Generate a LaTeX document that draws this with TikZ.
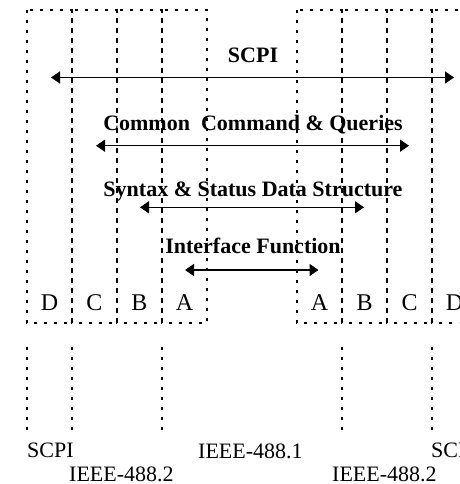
\documentclass[tikz,border=0pt]{standalone}
\usepackage{fontspec}
\setmainfont{Liberation Serif}
\usetikzlibrary{arrows.meta}

\tikzset{
	dotline/.style={line width=1.5pt, dash pattern=on 3pt off 7pt},
	layerarrow/.style={line width=1.5pt, {Triangle[length=9pt,width=12pt]}-{Triangle[length=9pt,width=12pt]}},
	layertext/.style={font=\fontsize{22}{26}\selectfont\bfseries, inner sep=0pt, anchor=base},
	lettertext/.style={font=\fontsize{24}{28}\selectfont, inner sep=0pt, anchor=base},
	stdtext/.style={font=\fontsize{22}{26}\selectfont, inner sep=0pt, anchor=base west}
}

% one column of a stack: left x, letter, node name
\newcommand{\drawcolumn}[3]{
	\draw[dotline] (#1, 10) rectangle (#1+45, 323);
	\node[lettertext] (#3) at (#1+22.5, 310) {#2};
}

% one layer: name, arrow y, left x, right x, label baseline, label
\newcommand{\drawlayer}[6]{
	\node[layertext] (#1) at (253, #5) {#6};
	\coordinate (#1L) at (#3, #2);
	\coordinate (#1R) at (#4, #2);
	\draw[layerarrow] (#1L) -- (#1R);
}

\begin{document}
\begin{tikzpicture}[x=1pt, y=-1pt]
	\useasboundingbox (0, 0) rectangle (459, 484);
	\clip (0, 0) rectangle (459, 484);

	%% left stack
	\drawcolumn{27}{D}{lD}
	\drawcolumn{72}{C}{lC}
	\drawcolumn{117}{B}{lB}
	\drawcolumn{162}{A}{lA}

	%% right stack
	\drawcolumn{297}{A}{rA}
	\drawcolumn{342}{B}{rB}
	\drawcolumn{387}{C}{rC}
	\drawcolumn{432}{D}{rD}

	% layers
	\drawlayer{scpi}{77.5}{51}{454}{63}{SCPI}
	\drawlayer{common}{145.7}{96}{409}{130}{Common\ \ Command \& Queries}
	\drawlayer{syntax}{207.3}{140}{364}{196}{Syntax \& Status Data Structure}
	\drawlayer{iface}{270}{185}{318.5}{253}{Interface Function}

	% stubs below
	\foreach \x in {27, 72, 162, 342, 432, 477}
		\draw[dotline] (\x, 347) -- (\x, 436);

	% standards
	\node[stdtext] (scpiA) at (27, 457) {SCPI};
	\node[stdtext] (ieeeA) at (69, 481.5) {IEEE-488.2};
	\node[stdtext] (ieeeB) at (198, 458) {IEEE-488.1};
	\node[stdtext] (ieeeC) at (332, 481.5) {IEEE-488.2};
	\node[stdtext] (scpiB) at (431, 457) {SCPI};
\end{tikzpicture}
\end{document}
